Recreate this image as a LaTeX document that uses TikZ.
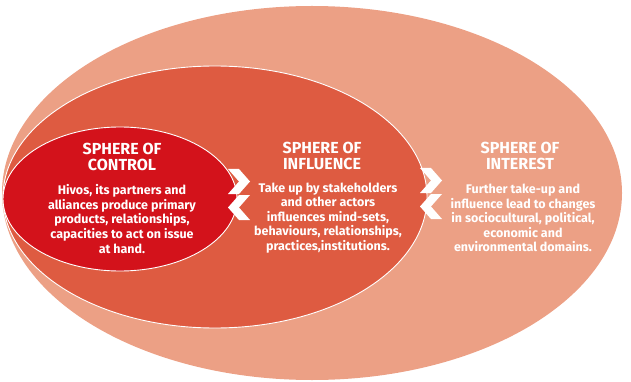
\documentclass[tikz,border=0pt]{standalone}
\usepackage{fontspec}
\setmainfont{Fira Sans}
\definecolor{outerc}{HTML}{ECA085}
\definecolor{midc}{HTML}{DE5B41}
\definecolor{innerc}{HTML}{D3121B}
\begin{document}
\begin{tikzpicture}[x=1pt,y=-1pt,
  sphere/.style={draw=white, line width=0.9pt},
  titletext/.style={text=white, font=\bfseries\fontsize{16}{16.5}\selectfont, align=center, inner sep=0pt},
  bodytext/.style={text=white, font=\bfseries\fontsize{12.5}{14.6}\selectfont, align=center, inner sep=0pt},
  chev/.style={fill=white}]
\useasboundingbox (0,0) rectangle (631,382);
% spheres
\fill[outerc] (312,193) ellipse [x radius=310, y radius=187];
\filldraw[sphere, fill=midc] (215,197) ellipse [x radius=212, y radius=131];
\filldraw[sphere, fill=innerc] (120,199) ellipse [x radius=117, y radius=72];
% chevrons
\foreach \cx/\cy in {228/169, 420/168}{
  \begin{scope}[shift={(\cx,\cy)}]
    \fill[chev] (0,0) -- (11,0) -- (22,12.5) -- (11,25) -- (0,25) -- (11,12.5) -- cycle;
    \fill[chev] (22,26) -- (11,26) -- (0,38.5) -- (11,51) -- (22,51) -- (11,38.5) -- cycle;
  \end{scope}
}
% texts
\node[titletext] (ctrlT) at (122,157) {SPHERE OF\\CONTROL};
\node[bodytext] (ctrlB) at (122,219) {Hivos, its partners and\\alliances produce primary\\products, relationships,\\capacities to act on issue\\at hand.};
\node[titletext] (inflT) at (322,156) {SPHERE OF\\INFLUENCE};
\node[bodytext] (inflB) at (328,218) {Take up by stakeholders\\and other actors\\influences mind-sets,\\behaviours, relationships,\\practices,institutions.};
\node[titletext] (intT) at (520,156) {SPHERE OF\\INTEREST};
\node[bodytext] (intB) at (523,218) {Further take-up and\\influence lead to changes\\in sociocultural, political,\\economic and\\environmental domains.};
\end{tikzpicture}
\end{document}
